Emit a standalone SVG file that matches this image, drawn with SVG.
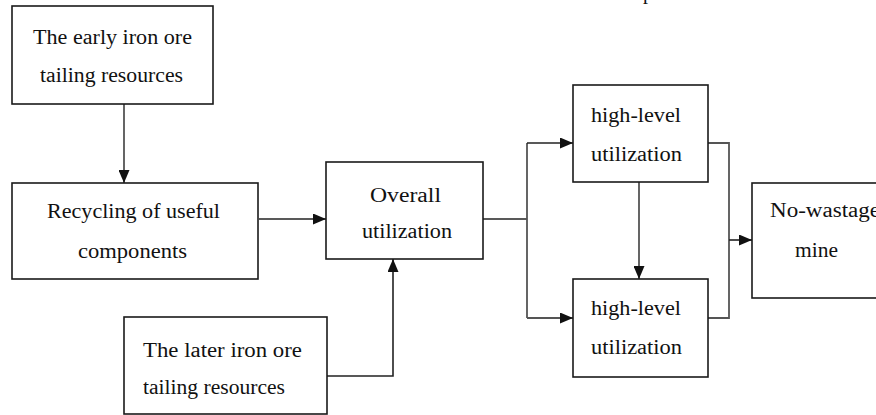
<svg xmlns="http://www.w3.org/2000/svg" width="876" height="415" viewBox="0 0 876 415">
<style>
.box{fill:#fff;stroke:#1a1a1a;stroke-width:1.6}
.t{font-family:"Liberation Serif","Times New Roman",serif;font-size:20px;fill:#111}
.c{fill:none;stroke:#222;stroke-width:1.6}
.g{fill:none;stroke:#555;stroke-width:1.8}
</style>
<defs>
<marker id="ah" viewBox="0 0 13 11" refX="13" refY="5.5" markerWidth="13" markerHeight="11" markerUnits="userSpaceOnUse" orient="auto">
<path d="M0,0 L13,5.5 L0,11 Z" fill="#111"/>
</marker>
</defs>
<rect width="876" height="415" fill="#fff"/>
<text class="t" x="643" y="-1">p</text>
<g id="connectors">
<path class="g" d="M124,104 V183" marker-end="url(#ah)"/>
<path class="c" d="M259,219 H326" marker-end="url(#ah)"/>
<path class="c" d="M327,376 H393 V259" marker-end="url(#ah)"/>
<path class="c" d="M483,219 H527"/>
<path class="g" d="M527,143 V318"/>
<path class="c" d="M527,143 H573" marker-end="url(#ah)"/>
<path class="g" d="M527,318 H573" marker-end="url(#ah)"/>
<path class="g" d="M639,182 V279" marker-end="url(#ah)"/>
<path class="g" d="M708,143 H729 V318 H708"/>
<path class="c" d="M729,240 H752" marker-end="url(#ah)"/>
</g>
<g id="early">
<rect class="box" x="12" y="6" width="201" height="98"/>
<text class="t" x="33" y="44" textLength="159" lengthAdjust="spacingAndGlyphs">The early iron ore</text>
<text class="t" x="40" y="82" textLength="143" lengthAdjust="spacingAndGlyphs">tailing resources</text>
</g>
<g id="recycling">
<rect class="box" x="12" y="183" width="246" height="96"/>
<text class="t" x="47" y="218" textLength="173" lengthAdjust="spacingAndGlyphs">Recycling of useful</text>
<text class="t" x="78" y="258" textLength="109" lengthAdjust="spacingAndGlyphs">components</text>
</g>
<g id="overall">
<rect class="box" x="326" y="162" width="157" height="97"/>
<text class="t" x="370" y="202" textLength="71" lengthAdjust="spacingAndGlyphs">Overall</text>
<text class="t" x="362" y="238" textLength="90" lengthAdjust="spacingAndGlyphs">utilization</text>
</g>
<g id="later">
<rect class="box" x="124" y="317" width="203" height="97"/>
<text class="t" x="143" y="357" textLength="159" lengthAdjust="spacingAndGlyphs">The later iron ore</text>
<text class="t" x="143" y="394" textLength="142" lengthAdjust="spacingAndGlyphs">tailing resources</text>
</g>
<g id="high1">
<rect class="box" x="573" y="85" width="135" height="97"/>
<text class="t" x="591" y="122" textLength="90" lengthAdjust="spacingAndGlyphs">high-level</text>
<text class="t" x="591" y="161" textLength="91" lengthAdjust="spacingAndGlyphs">utilization</text>
</g>
<g id="high2">
<rect class="box" x="573" y="279" width="135" height="98"/>
<text class="t" x="591" y="315" textLength="90" lengthAdjust="spacingAndGlyphs">high-level</text>
<text class="t" x="591" y="354" textLength="91" lengthAdjust="spacingAndGlyphs">utilization</text>
</g>
<g id="nowastage">
<rect class="box" x="752" y="183" width="140" height="115"/>
<text class="t" x="770" y="217" textLength="110" lengthAdjust="spacingAndGlyphs">No-wastage</text>
<text class="t" x="795" y="257" textLength="43" lengthAdjust="spacingAndGlyphs">mine</text>
</g>
</svg>
